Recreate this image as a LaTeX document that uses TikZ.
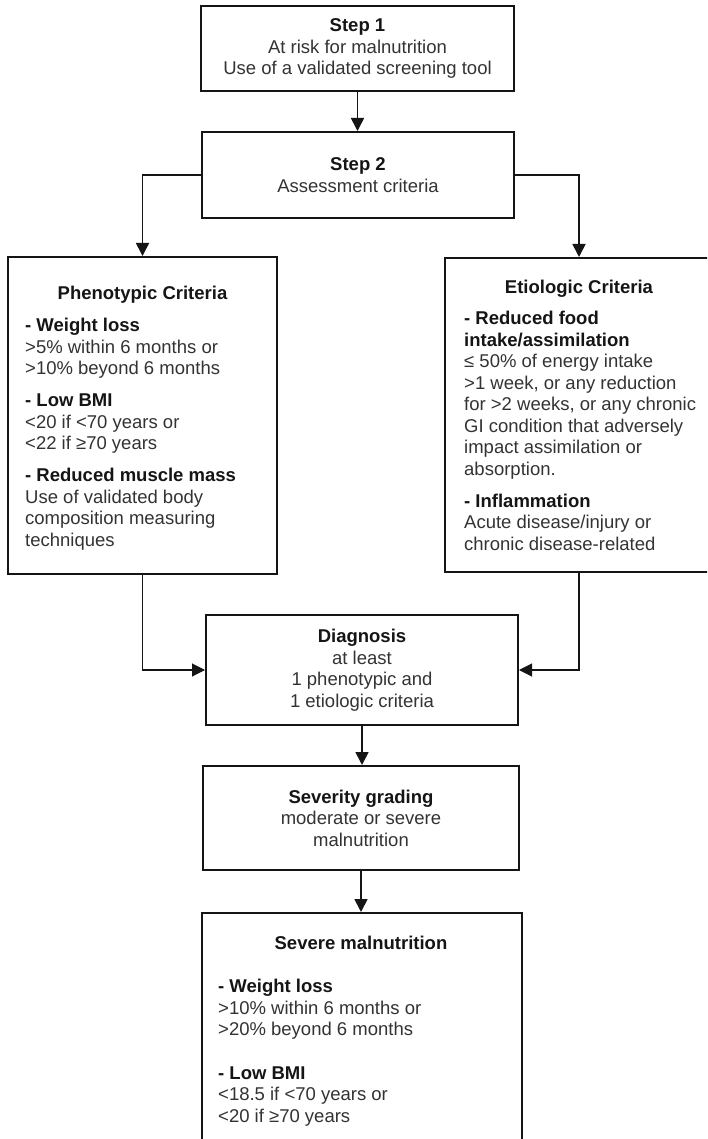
\documentclass[tikz,border=0pt]{standalone}
\usepackage{fontspec}
\setmainfont{Liberation Sans}
\usetikzlibrary{arrows.meta}
\definecolor{txt}{HTML}{333333}
\definecolor{ink}{HTML}{151515}
\begin{document}
\begin{tikzpicture}[x=1pt,y=-1pt,
  box/.style={draw=ink, line width=2pt, rectangle, inner sep=0pt,
    font=\fontsize{18.5}{21.5}\selectfont, text=txt, align=center},
  ttl/.style={font=\fontsize{18.5}{21.5}\selectfont\bfseries, text=ink, inner sep=0pt, anchor=base},
  body/.style={font=\fontsize{18.5}{21.5}\selectfont, text=txt, align=left, inner sep=0pt, anchor=north west},
  arr/.style={draw=ink, line width=1.7pt, -{Triangle[length=13pt,width=13pt]}},
  thinarr/.style={draw=ink, line width=1.1pt, -{Triangle[length=13pt,width=13pt]}},
]
\newcommand{\hd}[1]{{\color{ink}\bfseries #1}}
\path[use as bounding box] (0,0) rectangle (707,1139);
\clip (0,0) rectangle (707,1139);
\fill[white] (0,0) rectangle (707,1139);

% centred boxes
\node[box, minimum width=313pt, minimum height=85pt] (s1) at (357.5,48.5)
  {\hd{Step 1}\\At risk for malnutrition\\Use of a validated screening tool};
\node[box, minimum width=312pt, minimum height=86pt] (s2) at (358,175)
  {\hd{Step 2}\\Assessment criteria};
\node[box, minimum width=312pt, minimum height=110pt] (diag) at (362,670)
  {\hd{Diagnosis}\\at least\\1 phenotypic and\\1 etiologic criteria};
\node[box, minimum width=316pt, minimum height=104pt] (sev) at (361,818)
  {\hd{Severity grading}\\moderate or severe\\malnutrition};

% top-aligned boxes
\node[box, minimum width=269pt, minimum height=317pt] (phen) at (142.5,415.5) {};
\node[box, minimum width=268pt, minimum height=314pt] (etio) at (579,415) {};
\node[box, minimum width=320pt, minimum height=247pt] (severe) at (362,1036.5) {};

\node[ttl] (phent) at (142.5,299.7) {Phenotypic Criteria};
\node[body] (phenb) at (25,316.6) {\strut\hd{- Weight loss}\\
  >5\% within 6 months or\\
  >10\% beyond 6 months\\[10.5pt]
  \hd{- Low BMI}\\
  <20 if <70 years or\\
  <22 if ≥70 years\\[10.5pt]
  \hd{- Reduced muscle mass}\\
  Use of validated body\\
  composition measuring\\
  techniques};

\node[ttl] (etiot) at (579,293.7) {Etiologic Criteria};
\node[body] (etiob) at (464,309.6) {\strut\hd{- Reduced food}\\
  \hd{intake/assimilation}\\
  ≤ 50\% of energy intake\\
  >1 week, or any reduction\\
  for >2 weeks, or any chronic\\
  GI condition that adversely\\
  impact assimilation or\\
  absorption.\\[10.5pt]
  \hd{- Inflammation}\\
  Acute disease/injury or\\
  chronic disease-related};

\node[ttl] (severet) at (361,949.7) {Severe malnutrition};
\node[body] (severeb) at (218,977.6) {\strut\hd{- Weight loss}\\
  >10\% within 6 months or\\
  >20\% beyond 6 months\\[22pt]
  \hd{- Low BMI}\\
  <18.5 if <70 years or\\
  <20 if ≥70 years};

% connectors
\draw[arr] (s1.south) -- (s1.south |- s2.north);
\draw[arr] (s2.west) -| (phen.north);
\draw[arr] (s2.east) -| (etio.north);
\draw[thinarr] (phen.south) |- (diag.west);
\draw[thinarr] (etio.south) |- (diag.east);
\draw[arr] (diag.south) -- (diag.south |- sev.north);
\draw[arr] (sev.south) -- (sev.south |- severe.north);
\end{tikzpicture}
\end{document}
